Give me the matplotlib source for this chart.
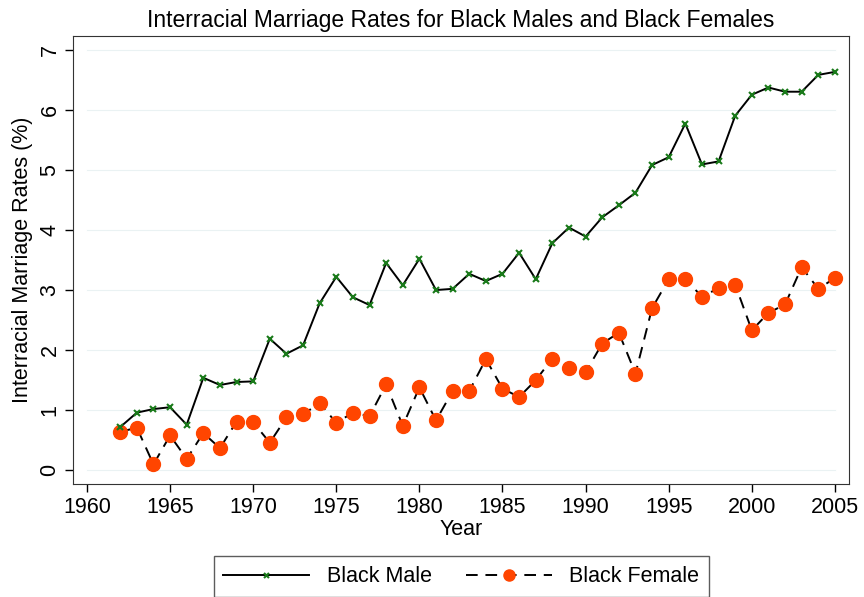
import matplotlib
matplotlib.use("Agg")
import matplotlib.pyplot as plt

plt.rcParams["font.family"] = ["Liberation Sans", "DejaVu Sans"]

years = list(range(1962, 2006))
black_male = [0.72, 0.96, 1.02, 1.05, 0.76, 1.54, 1.42, 1.47, 1.48, 2.19,
              1.94, 2.08, 2.78, 3.22, 2.88, 2.75, 3.45, 3.08, 3.52, 3.00,
              3.02, 3.27, 3.15, 3.27, 3.62, 3.18, 3.78, 4.04, 3.89, 4.21,
              4.41, 4.62, 5.08, 5.21, 5.77, 5.09, 5.14, 5.90, 6.25, 6.37,
              6.30, 6.30, 6.58, 6.63]
black_female = [0.64, 0.71, 0.10, 0.58, 0.19, 0.62, 0.37, 0.81, 0.80, 0.46,
                0.88, 0.93, 1.12, 0.79, 0.96, 0.90, 1.43, 0.74, 1.38, 0.83,
                1.32, 1.32, 1.85, 1.36, 1.22, 1.50, 1.86, 1.70, 1.63, 2.11,
                2.29, 1.61, 2.70, 3.18, 3.18, 2.89, 3.03, 3.09, 2.33, 2.62,
                2.76, 3.38, 3.02, 3.20]
xticks = list(range(1960, 2010, 5))
yticks = list(range(0, 8))

fig = plt.figure(figsize=(8.64, 5.97), dpi=100)
ax = fig.add_axes([0.0845, 0.189, 0.898, 0.751])

# faint horizontal grid lines
for y in yticks:
    ax.plot([1960, 2005], [y, y], color="#eaf2f3", lw=0.8, zorder=0)

ax.plot(years, black_male, color="black", lw=1.4, marker="x", markersize=4.5,
        markeredgecolor="#1a7a1a", markeredgewidth=1.5, label="Black Male", zorder=3)
ax.plot(years, black_female, color="black", lw=1.4, linestyle=(0, (6, 4)),
        marker="o", markersize=10, markerfacecolor="#ff4500",
        markeredgecolor="#ff4500", label="Black Female", zorder=2)

ax.set_xlim(1959.16, 2005.84)
ax.set_ylim(-0.23, 7.23)
ax.set_xticks(xticks)
ax.set_yticks(yticks)
ax.tick_params(axis="both", direction="out", length=6, width=1, labelsize=15.5,
               pad=3)
for lab in ax.get_yticklabels():
    lab.set_rotation(90)
    lab.set_va("center")
for s in ax.spines.values():
    s.set_color("#333333")
ax.set_xlabel("Year", fontsize=15.5, labelpad=1)
ax.set_ylabel("Interracial Marriage Rates (%)", fontsize=15.5, labelpad=5)
ax.set_title("Interracial Marriage Rates for Black Males and Black Females",
             fontsize=16.5, pad=6)

leg = fig.legend(loc="upper center", bbox_to_anchor=(0.534, 0.086), ncol=2,
                 fontsize=15.5, frameon=True, fancybox=False, edgecolor="#333333",
                 handlelength=4.0, columnspacing=1.6, borderpad=0.45,
                 markerscale=0.8)
leg.get_frame().set_linewidth(1)

fig.savefig("out.png", dpi=100)
